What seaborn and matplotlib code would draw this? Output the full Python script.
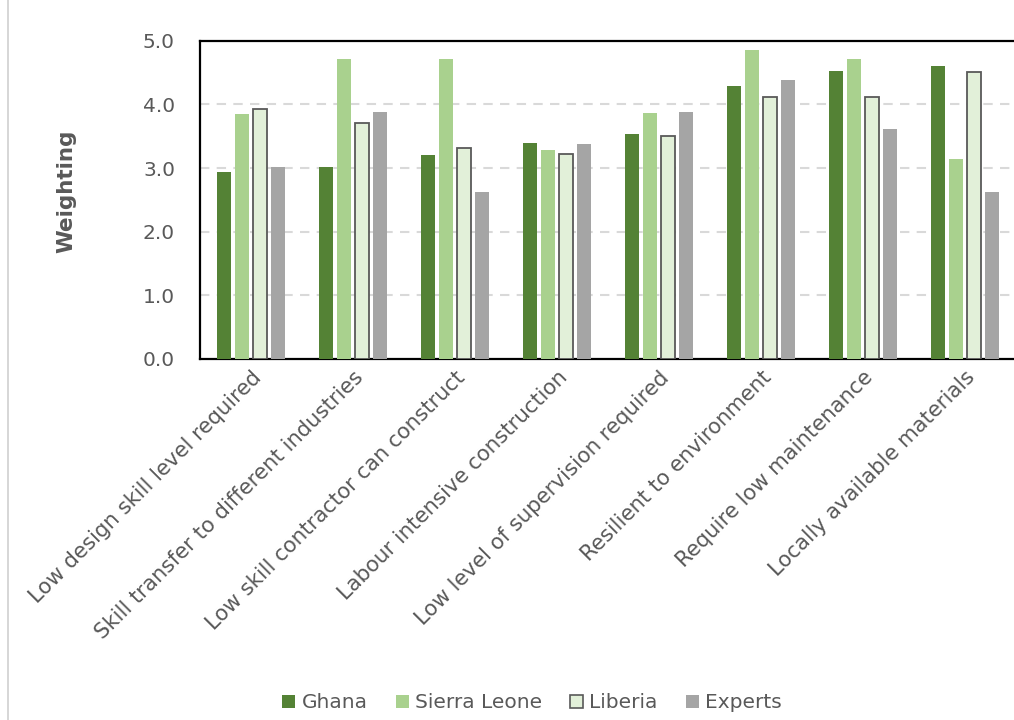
import matplotlib
matplotlib.use("Agg")
import matplotlib.pyplot as plt
import seaborn as sns
import pandas as pd
from matplotlib.lines import Line2D

categories = [
    "Low design skill level required",
    "Skill transfer to different industries",
    "Low skill contractor can construct",
    "Labour intensive construction",
    "Low level of supervision required",
    "Resilient to environment",
    "Require low maintenance",
    "Locally available materials",
]
series = ["Ghana", "Sierra Leone", "Liberia", "Experts"]
ghana = [2.94, 3.01, 3.20, 3.40, 3.53, 4.29, 4.53, 4.60]
sierra_leone = [3.85, 4.71, 4.71, 3.29, 3.86, 4.86, 4.71, 3.14]
liberia = [3.92, 3.70, 3.31, 3.22, 3.50, 4.12, 4.12, 4.51]
experts = [3.01, 3.88, 2.63, 3.38, 3.88, 4.38, 3.62, 2.63]
yticks = [0.0, 1.0, 2.0, 3.0, 4.0, 5.0]

colors = ["#548235", "#A9D18E", "#E2F0D9", "#A5A5A5"]

rows = []
for name, vals in zip(series, [ghana, sierra_leone, liberia, experts]):
    for c, v in zip(categories, vals):
        rows.append({"Category": c, "Series": name, "Value": v})
df = pd.DataFrame(rows)

sns.set_style("white")
plt.rcParams["font.family"] = ["DejaVu Sans"]
txt = "#595959"

fig = plt.figure(figsize=(10.14, 7.2), dpi=100)
ax = fig.add_axes([200 / 1014, 1 - 359 / 720, 816 / 1014, (359 - 40.7) / 720])

sns.barplot(data=df, x="Category", y="Value", hue="Series", order=categories,
            hue_order=series, palette=colors, width=0.7, gap=0.2,
            saturation=1, legend=False, ax=ax, zorder=3)

for cont, name in zip(ax.containers, series):
    for p in cont:
        if name == "Liberia":
            p.set_edgecolor("#595959")
            p.set_linewidth(1.3)
        else:
            p.set_edgecolor("none")
            p.set_linewidth(0)

ax.set_ylim(0, 5)
ax.set_xlim(-0.5, 7.5)
ax.set_yticks(yticks)
ax.set_yticklabels([f"{t:.1f}" for t in yticks], fontsize=14.5, color=txt)
ax.tick_params(axis="y", length=0, pad=18)
ax.tick_params(axis="x", length=0, pad=6)
ax.set_xticks(range(len(categories)))
ax.set_xticklabels(categories, rotation=45, ha="right", va="top",
                   rotation_mode="anchor", fontsize=15.3, color=txt)
ax.set_xlabel("")
ax.set_ylabel("Weighting", fontsize=15.5, fontweight="bold", color=txt)
ax.yaxis.set_label_coords(-0.152, 0.528)

for y in [1, 2, 3, 4]:
    ax.axhline(y, color="#D9D9D9", linestyle=(0, (4.5, 3.5)), linewidth=1.5, zorder=1)

for side in ["left", "top", "bottom", "right"]:
    ax.spines[side].set_visible(True)
    ax.spines[side].set_color("black")
    ax.spines[side].set_linewidth(1.6)

handles = [plt.Rectangle((0, 0), 1, 1, facecolor=c,
                         edgecolor=("#595959" if s == "Liberia" else "none"),
                         linewidth=(1.2 if s == "Liberia" else 0))
           for s, c in zip(series, colors)]
fig.legend(handles, series, loc="center", bbox_to_anchor=(532 / 1014, 1 - 703 / 720),
           ncol=4, frameon=False, fontsize=14.5, handlelength=0.65, handleheight=0.65,
           handletextpad=0.3, columnspacing=1.4, labelcolor=txt)

fig.add_artist(Line2D([8 / 1014, 8 / 1014], [0, 1], color="#D0D0D0", linewidth=1.2))

fig.savefig("out.png", dpi=100)
